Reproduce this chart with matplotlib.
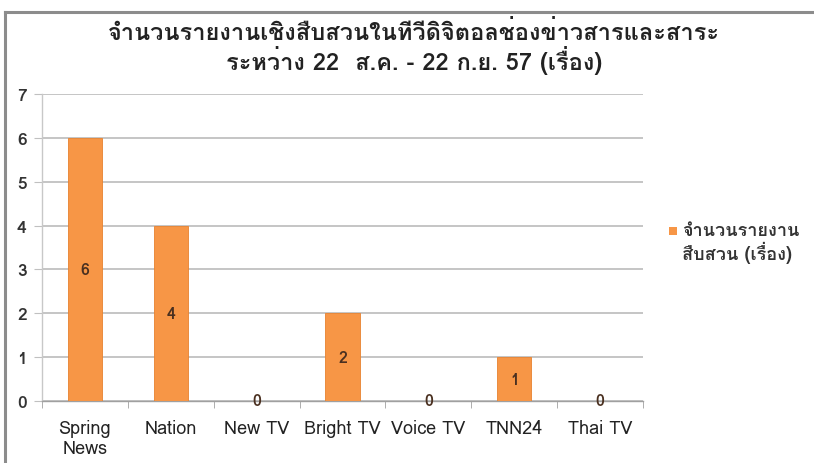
import matplotlib
matplotlib.use("Agg")
import matplotlib.pyplot as plt
from matplotlib import font_manager
from matplotlib.patches import Rectangle
import numpy as np

categories = ["Spring\nNews", "Nation", "New TV", "Bright TV", "Voice TV", "TNN24", "Thai TV"]
values = [6, 4, 0, 2, 0, 1, 0]
yticks = [0, 1, 2, 3, 4, 5, 6, 7]
title = "จำนวนรายงานเชิงสืบสวนในทีวีดิจิตอลช่องข่าวสารและสาระ\nระหว่าง 22  ส.ค. - 22 ก.ย. 57 (เรื่อง)"
legend_label = "จำนวนรายงาน\nสืบสวน (เรื่อง)"

# find any installed font covering Thai
thai_fonts = []
try:
    from fontTools.ttLib import TTFont
    seen = set()
    for f in font_manager.fontManager.ttflist:
        if f.name in seen:
            continue
        try:
            tt = TTFont(f.fname, fontNumber=0, lazy=True)
            cmap = tt.getBestCmap()
            if cmap and 0x0E08 in cmap and 0x0E32 in cmap:
                thai_fonts.append(f.name)
                seen.add(f.name)
        except Exception:
            pass
except Exception:
    pass

fam = thai_fonts[:1] + ["DejaVu Sans"]
plt.rcParams['font.family'] = fam

fig = plt.figure(figsize=(8.14, 4.64), dpi=100)
fig.patch.set_facecolor("white")

# outer frame (partially visible, cropped screenshot)
fig.add_artist(plt.Line2D([5/814, 1.0], [1-13/464, 1-13/464], transform=fig.transFigure,
                          color="#8c8c8c", lw=2.2))
fig.add_artist(plt.Line2D([5/814, 5/814], [0, 1-13/464], transform=fig.transFigure,
                          color="#8c8c8c", lw=2.2))

ax = fig.add_axes([42/814, 1-402/464, (643-42)/814, (402-95)/464])
x = np.arange(len(categories))
bars = ax.bar(x, values, width=0.4, color="#F79646", edgecolor="#E8822F", linewidth=0.6, zorder=3,
              label=legend_label)

ax.set_xlim(-0.5, len(categories) - 0.5)
ax.set_ylim(0, 7)
ax.set_yticks(yticks)
ax.set_yticklabels([str(t) for t in yticks], fontsize=12.5, fontweight="bold", color="#333333")
ax.yaxis.grid(True, color="#c0c0c0", lw=1.3, zorder=0)
ax.tick_params(axis="y", length=6, color="#c0c0c0", pad=5)

ax.set_xticks(x)
ax.set_xticklabels(categories, fontsize=13, color="#222222", linespacing=1.15)
ax.tick_params(axis="x", length=0, pad=13)
ax.set_xticks(np.arange(-0.5, len(categories)), minor=True)
ax.tick_params(axis="x", which="minor", length=5, color="#a0a0a0")

for s in ["top", "right"]:
    ax.spines[s].set_visible(False)
ax.spines["left"].set_color("#c8c8c8")
ax.spines["bottom"].set_color("#a0a0a0")
ax.spines["left"].set_linewidth(1.0)
ax.spines["bottom"].set_linewidth(1.0)

for xi, v in zip(x, values):
    ax.text(xi, v / 2, str(v), ha="center", va="center", fontsize=11.5, fontweight="bold",
            color="#4a3020", zorder=4)

fig.text(414/814, 1-48/464, title, ha="center", va="center", fontsize=17, fontweight="bold",
         color="#222222", linespacing=1.08)

# legend (square aligned with first line of the label, as in the source)
h = bars.patches[0]
fig.add_artist(Rectangle((669/814, 1-236/464), 8/814, 8/464, transform=fig.transFigure,
                         facecolor=h.get_facecolor(), edgecolor="none"))
fig.text(682/814, 1-222/464, legend_label, ha="left", va="top", fontsize=13, fontweight="bold",
         color="#333333", linespacing=1.1)

fig.savefig("out.png", dpi=100, facecolor="white")
